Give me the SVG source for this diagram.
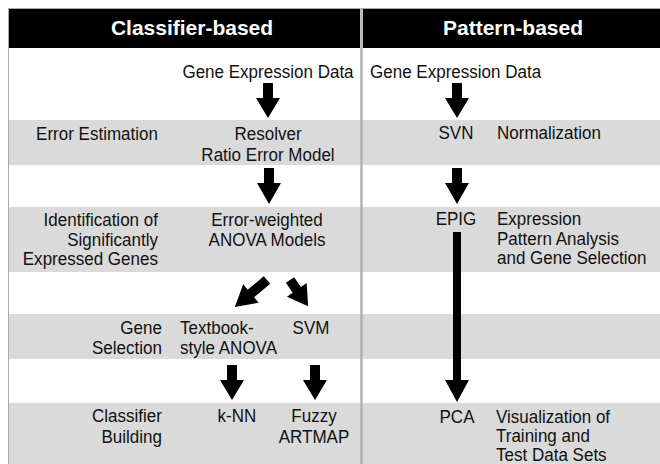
<svg xmlns="http://www.w3.org/2000/svg" width="660" height="464" viewBox="0 0 660 464">
<style>
text{font-family:"Liberation Sans","Arial",sans-serif;font-size:18.5px;fill:#111;transform-box:fill-box;transform:scaleX(0.92);transform-origin:left center}
.h{font-weight:bold;font-size:21px;fill:#fff;text-anchor:middle;transform:none}
.c{text-anchor:middle;transform-origin:center}
.r{text-anchor:end;transform-origin:right center}
.band{fill:#dadada}
.arr{fill:#000}
.frame{stroke:#aaa;fill:none}
</style>
<rect x="0" y="0" width="660" height="464" fill="#fff"/>
<g id="bands">
<rect class="band" x="8" y="120" width="652" height="45"/>
<rect class="band" x="8" y="207" width="652" height="65"/>
<rect class="band" x="8" y="314" width="652" height="45"/>
<rect class="band" x="8" y="403" width="652" height="61"/>
</g>
<g id="header">
<rect x="8" y="9" width="352" height="39" fill="#000"/>
<rect x="363" y="9" width="297" height="39" fill="#000"/>
<text class="h" x="192" y="35">Classifier-based</text>
<text class="h" x="513" y="35">Pattern-based</text>
</g>
<g id="frame">
<line class="frame" x1="8" y1="8.5" x2="660" y2="8.5"/>
<line class="frame" x1="8.5" y1="8" x2="8.5" y2="464"/>
<line x1="361.5" y1="8" x2="361.5" y2="464" stroke="#b0b0b0" stroke-width="2.5"/>
</g>
<g id="row-labels">
<text class="r" x="158" y="140">Error Estimation</text>
<text class="r" x="158" y="226">Identification of</text>
<text class="r" x="158" y="246">Significantly</text>
<text class="r" x="158" y="265">Expressed Genes</text>
<text class="r" x="162" y="334">Gene</text>
<text class="r" x="162" y="354">Selection</text>
<text class="r" x="162" y="422">Classifier</text>
<text class="r" x="162" y="443">Building</text>
</g>
<g id="n-gene-left"><text class="c" x="268" y="78">Gene Expression Data</text></g>
<g id="n-resolver"><text class="c" x="268" y="140">Resolver</text><text class="c" x="268" y="161">Ratio Error Model</text></g>
<g id="n-anova"><text class="c" x="267" y="226">Error-weighted</text><text class="c" x="267" y="246">ANOVA Models</text></g>
<g id="n-textbook"><text x="180" y="334">Textbook-</text><text x="180" y="354">style ANOVA</text></g>
<g id="n-svm"><text class="c" x="311" y="334">SVM</text></g>
<g id="n-knn"><text class="c" x="237" y="422">k-NN</text></g>
<g id="n-fuzzy"><text class="c" x="314" y="422">Fuzzy</text><text class="c" x="314" y="443">ARTMAP</text></g>
<g id="n-gene-right"><text x="370" y="78">Gene Expression Data</text></g>
<g id="n-svn"><text class="c" x="456" y="139">SVN</text><text x="497" y="139">Normalization</text></g>
<g id="n-epig"><text class="c" x="456" y="225">EPIG</text><text x="497" y="225">Expression</text><text x="497" y="245">Pattern Analysis</text><text x="497" y="264">and Gene Selection</text></g>
<g id="n-pca"><text class="c" x="457" y="423">PCA</text><text x="496" y="423">Visualization of</text><text x="496" y="442">Training and</text><text x="496" y="461">Test Data Sets</text></g>
<g id="connectors">
<polygon class="arr" points="263,83 273,83 273,98 280,98 268,118 256,98 263,98"/>
<polygon class="arr" points="264,168 274,168 274,183 281,183 269,204 257,183 264,183"/>
<polygon class="arr" points="452,83 462,83 462,98 469,98 457,118 445,98 452,98"/>
<polygon class="arr" points="452,168 462,168 462,183 469,183 457,204 445,183 452,183"/>
<polygon class="arr" points="453,232 461,232 461,380 469,380 457,402 445,380 453,380"/>
<polygon class="arr" points="227,365 237,365 237,380 244,380 232,400 220,380 227,380"/>
<polygon class="arr" points="310,365 320,365 320,380 327,380 315,400 303,380 310,380"/>
<polygon class="arr" transform="translate(267,280) rotate(50)" points="-5,0 5,0 5,21 12,21 0,42 -12,21 -5,21"/>
<polygon class="arr" transform="translate(290,280) rotate(-34.5)" points="-5,0 5,0 5,12 12,12 0,32 -12,12 -5,12"/>
</g>
</svg>
